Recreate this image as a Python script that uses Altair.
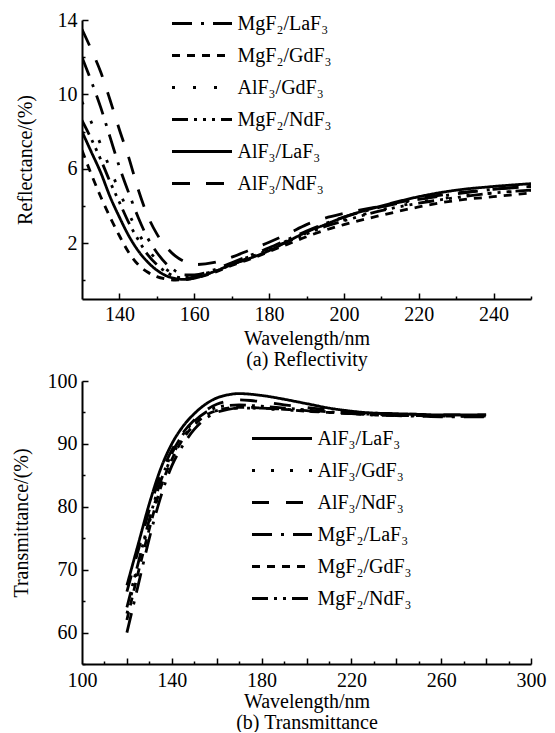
import altair as alt
import pandas as pd

FONT = "Liberation Serif"

# ---------------- (a) Reflectivity ----------------
top_series = ["MgF₂/LaF₃", "MgF₂/GdF₃", "AlF₃/GdF₃", "MgF₂/NdF₃", "AlF₃/LaF₃", "AlF₃/NdF₃"]
top_dashes = [[20, 9, 3, 9], [8, 7], [3, 18], [16, 6, 3, 6, 3, 6, 3, 6], [1, 0], [18, 16]]
top_wl = [130, 132.5, 135, 137.5, 140, 142.5, 145, 147.5, 150, 152.5, 155, 157.5, 160,
          165, 170, 175, 180, 185, 190, 195, 200, 210, 220, 230, 240, 250]
r_mgf2_laf3 = [12.0, 10.7, 9.3, 7.7, 6.1, 4.7, 3.4, 2.3, 1.5, 0.9, 0.5, 0.3, 0.3,
               0.55, 0.95, 1.35, 1.75, 2.2, 2.65, 3.05, 3.4, 3.95, 4.35, 4.65, 4.9, 5.05]
r_mgf2_gdf3 = [7.0, 5.7, 4.5, 3.4, 2.4, 1.5, 0.85, 0.45, 0.2, 0.07, 0.02, 0.04, 0.12,
               0.4, 0.8, 1.15, 1.55, 1.95, 2.35, 2.7, 3.0, 3.5, 3.95, 4.3, 4.5, 4.7]
r_alf3_gdf3 = [9.6, 8.5, 7.3, 6.0, 4.8, 3.6, 2.6, 1.7, 1.1, 0.6, 0.3, 0.2, 0.25,
               0.5, 0.9, 1.3, 1.7, 2.15, 2.55, 2.95, 3.25, 3.8, 4.2, 4.5, 4.7, 4.85]
r_mgf2_ndf3 = [8.6, 7.6, 6.5, 5.3, 4.2, 3.1, 2.2, 1.4, 0.85, 0.45, 0.2, 0.12, 0.18,
               0.45, 0.85, 1.25, 1.65, 2.1, 2.5, 2.9, 3.2, 3.75, 4.15, 4.45, 4.7, 4.85]
r_alf3_laf3 = [8.0, 6.9, 5.8, 4.5, 3.4, 2.4, 1.6, 1.0, 0.55, 0.25, 0.1, 0.05, 0.12,
               0.45, 0.85, 1.2, 1.6, 2.1, 2.6, 3.0, 3.4, 4.0, 4.5, 4.85, 5.05, 5.2]
r_alf3_ndf3 = [13.5, 12.4, 11.2, 9.7, 8.1, 6.6, 4.9, 3.5, 2.5, 1.8, 1.3, 1.0, 0.85,
               0.95, 1.25, 1.65, 2.05, 2.5, 3.0, 3.35, 3.6, 4.0, 4.4, 4.7, 4.9, 5.05]
top_values = [r_mgf2_laf3, r_mgf2_gdf3, r_alf3_gdf3, r_mgf2_ndf3, r_alf3_laf3, r_alf3_ndf3]

# ---------------- (b) Transmittance ----------------
bot_series = ["AlF₃/LaF₃", "AlF₃/GdF₃", "AlF₃/NdF₃", "MgF₂/LaF₃", "MgF₂/GdF₃", "MgF₂/NdF₃"]
bot_dashes = [[1, 0], [3, 16], [17, 17], [20, 9, 3, 9], [8, 7], [16, 6, 3, 6, 3, 6]]
bot_wl = [120, 125, 130, 135, 140, 145, 150, 155, 160, 165, 170, 175, 180,
          190, 200, 210, 220, 230, 240, 250, 260, 270, 280]
t_alf3_laf3 = [67.5, 74.0, 80.5, 86.0, 90.0, 92.8, 94.8, 96.3, 97.3, 97.8, 98.0, 97.9, 97.7,
               97.1, 96.4, 95.7, 95.2, 94.9, 94.8, 94.7, 94.6, 94.6, 94.6]
t_alf3_gdf3 = [63.0, 70.5, 77.5, 83.5, 88.0, 91.0, 93.2, 94.6, 95.3, 95.6, 95.7, 95.7, 95.6,
               95.4, 95.2, 95.0, 94.8, 94.7, 94.6, 94.5, 94.5, 94.4, 94.4]
t_alf3_ndf3 = [66.5, 73.0, 79.5, 85.0, 89.0, 91.8, 93.8, 95.3, 96.3, 96.8, 97.0, 96.9, 96.7,
               96.2, 95.8, 95.4, 95.1, 94.9, 94.8, 94.7, 94.6, 94.6, 94.6]
t_mgf2_laf3 = [60.0, 67.5, 75.0, 81.5, 86.5, 89.8, 92.3, 94.0, 95.0, 95.5, 95.7, 95.7, 95.7,
               95.5, 95.3, 95.0, 94.8, 94.6, 94.5, 94.4, 94.3, 94.3, 94.3]
t_mgf2_gdf3 = [62.0, 69.5, 76.5, 83.0, 87.5, 90.8, 93.0, 94.5, 95.3, 95.7, 95.8, 95.8, 95.7,
               95.5, 95.2, 95.0, 94.8, 94.6, 94.5, 94.5, 94.4, 94.4, 94.4]
t_mgf2_ndf3 = [64.0, 71.0, 78.0, 84.0, 88.5, 91.5, 93.6, 95.0, 95.8, 96.1, 96.2, 96.1, 96.0,
               95.7, 95.4, 95.1, 94.9, 94.7, 94.6, 94.5, 94.4, 94.4, 94.4]
bot_values = [t_alf3_laf3, t_alf3_gdf3, t_alf3_ndf3, t_mgf2_laf3, t_mgf2_gdf3, t_mgf2_ndf3]

# axis tick values
top_x_labels = [140, 160, 180, 200, 220, 240]
top_x_minor = [150, 170, 190, 210, 230, 250]
top_y_labels = [2, 6, 10, 14]
top_y_minor = [0, 4, 8, 12]
bot_x_labels = [100, 140, 180, 220, 260, 300]
bot_x_major = [120, 140, 160, 180, 200, 220, 240, 260, 280, 300]
bot_x_minor = [110, 130, 150, 170, 190, 210, 230, 250, 270, 290]
bot_y_labels = [60, 70, 80, 90, 100]
bot_y_minor = [55, 65, 75, 85, 95]

# legend symbol: a long horizontal stroke (unit path scaled by sqrt(size)/2)
LEG_PATH = "M-3,0H3"


def long_df(wl, names, vals):
    rows = []
    for n, v in zip(names, vals):
        for w, y in zip(wl, v):
            rows.append({"wl": w, "v": y, "s": n})
    return pd.DataFrame(rows)


def panel(df, order, dashes, xdom, ydom, xlab, xmaj, xmin_, ylab, ymin_, ytitle, xtitle,
          w, h, legx, legy, ytx, xlpad, xtpad):
    xs = alt.Scale(domain=xdom, nice=False, zero=False)
    ys = alt.Scale(domain=ydom, nice=False, zero=False)
    base = alt.Chart(df)
    lines = base.mark_line(color="black", strokeWidth=2.8, interpolate="monotone",
                           clip=True).encode(
        x=alt.X("wl:Q", scale=xs, axis=alt.Axis(values=xlab, ticks=False, tickSize=0,
                                                  labelPadding=xlpad, title=xtitle, orient="bottom",
                                                  titlePadding=xtpad, grid=False, labelFlush=False)),
        y=alt.Y("v:Q", scale=ys, axis=alt.Axis(values=ylab, ticks=False, tickSize=0,
                                                 labelPadding=5, title=ytitle, orient="left",
                                                 titleX=ytx, titleBaseline="middle",
                                                 grid=False, labelFlush=False)),
        strokeDash=alt.StrokeDash("s:N", scale=alt.Scale(domain=order, range=dashes),
                                  legend=alt.Legend(orient="none", legendX=legx, legendY=legy,
                                                    title=None, symbolType=LEG_PATH,
                                                    symbolSize=400, symbolStrokeWidth=3,
                                                    symbolStrokeColor="black",
                                                    symbolFillColor="transparent",
                                                    symbolOffset=18.5,
                                                    labelFont=FONT, labelFontSize=20,
                                                    labelColor="black", labelOffset=24,
                                                    rowPadding=10)),
        order=alt.Order("wl:Q"),
    )
    layers = [lines]
    for xv, yv, sz in [(xmaj, ylab, 6), (xmin_, ymin_, 3)]:
        layers.append(base.mark_point(opacity=0).encode(
            x=alt.X("wl:Q", scale=xs, axis=alt.Axis(values=xv, labels=False, domain=False,
                                                      tickSize=sz, offset=-sz, title=None,
                                                      orient="bottom", grid=False,
                                                      tickWidth=1.5, tickColor="black")),
            y=alt.Y("v:Q", scale=ys, axis=alt.Axis(values=yv, labels=False, domain=False,
                                                     tickSize=sz, offset=-sz, title=None,
                                                     orient="left", grid=False,
                                                     tickWidth=1.5, tickColor="black")),
        ))
    return alt.layer(*layers).resolve_axis(x="independent", y="independent").properties(
        width=w, height=h)


top_df = long_df(top_wl, top_series, top_values)
bot_df = long_df(bot_wl, bot_series, bot_values)

top = panel(top_df, top_series, top_dashes, [130, 250], [-1, 14], top_x_labels,
            top_x_labels, top_x_minor, top_y_labels, top_y_minor, "Reflectance/(%)",
            ["Wavelength/nm", "(a) Reflectivity"], 449, 279, 90, -8, -57, 5, 4)
bot = panel(bot_df, bot_series, bot_dashes, [100, 300], [55, 100], bot_x_labels,
            bot_x_major, bot_x_minor, bot_y_labels, bot_y_minor, "Transmittance/(%)",
            ["Wavelength/nm", "(b) Transmittance"], 449, 283, 170, 46, -61, 6, 1)

chart = alt.vconcat(top, bot, spacing=82, bounds="flush").resolve_scale(
    strokeDash="independent").resolve_legend(strokeDash="independent").properties(
    padding={"left": 11, "top": 10, "right": 5, "bottom": 0},
    background="white",
).configure_view(stroke=None).configure_axis(
    labelFont=FONT, labelFontSize=20, labelColor="black",
    titleFont=FONT, titleFontSize=20, titleFontWeight="normal", titleColor="black",
    domainColor="black", domainWidth=2, titleLineHeight=21,
)

chart.save("out.html", embed_options={"renderer": "svg", "actions": False})
